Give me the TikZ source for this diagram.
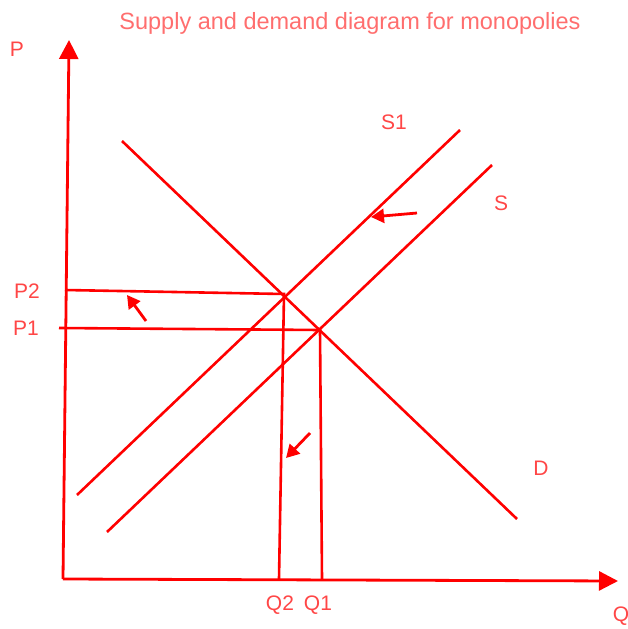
\documentclass[tikz,border=0pt]{standalone}
\usepackage{fontspec}
\setmainfont{Liberation Sans}
\usetikzlibrary{arrows.meta}
\definecolor{lred}{RGB}{255,70,70}
\definecolor{ttl}{RGB}{255,110,110}
\tikzset{
  curve/.style={draw=red, line width=2.6pt},
  axis/.style={draw=red, line width=2.8pt, -{Triangle[length=19pt,width=19pt]}},
  lbl/.style={text=lred, font=\fontsize{21}{24}\selectfont, inner sep=0pt},
  shiftarrow/.style={draw=red, line width=2.8pt, -{Triangle[length=13pt,width=14pt]}},
}
\begin{document}
\begin{tikzpicture}[x=1pt,y=-1pt]
\useasboundingbox (0,0) rectangle (628,629);
% axes
\coordinate (o) at (63,579);
\coordinate (ytip) at (69,40);
\coordinate (xtip) at (618,581);
\draw[axis] (o) -- (ytip);
\draw[axis] (o) -- (xtip);
% curves
\coordinate (d1) at (122,141); \coordinate (d2) at (517,519);
\coordinate (sa1) at (77,495); \coordinate (sa2) at (460,130);
\coordinate (s1) at (107,532); \coordinate (s2) at (492,165);
\draw[curve] (d1) -- (d2);
\draw[curve] (sa1) -- (sa2);
\draw[curve] (s1) -- (s2);
% equilibrium lines
\coordinate (e2) at (284,294);
\coordinate (e1) at (320,330);
\coordinate (p2a) at (65,290);
\coordinate (p1a) at (59,328);
\coordinate (q2a) at (279,579);
\coordinate (q1a) at (322,579);
\draw[curve] (p2a) -- (e2) -- (q2a);
\draw[curve] (p1a) -- (e1) -- (q1a);
% shift arrows
\coordinate (a1t) at (417,213); \coordinate (a1h) at (371,217);
\coordinate (a2t) at (146,321); \coordinate (a2h) at (127,295);
\coordinate (a3t) at (310,433); \coordinate (a3h) at (286,458);
\draw[shiftarrow] (a1t) -- (a1h);
\draw[shiftarrow] (a2t) -- (a2h);
\draw[shiftarrow] (a3t) -- (a3h);
% labels
\node[lbl, text=ttl, font=\fontsize{23.5}{26}\selectfont] (title) at (350,23) {Supply and demand diagram for monopolies};
\node[lbl] (P) at (17,49) {P};
\node[lbl] (Q) at (621,616) {Q};
\node[lbl] (S1l) at (394,122) {S1};
\node[lbl] (Sl) at (501,203) {S};
\node[lbl] (Dl) at (541,468) {D};
\node[lbl] (P2l) at (27,291) {P2};
\node[lbl] (P1l) at (26,328) {P1};
\node[lbl] (Q2l) at (280,605) {Q2};
\node[lbl] (Q1l) at (318,605) {Q1};
\end{tikzpicture}
\end{document}
